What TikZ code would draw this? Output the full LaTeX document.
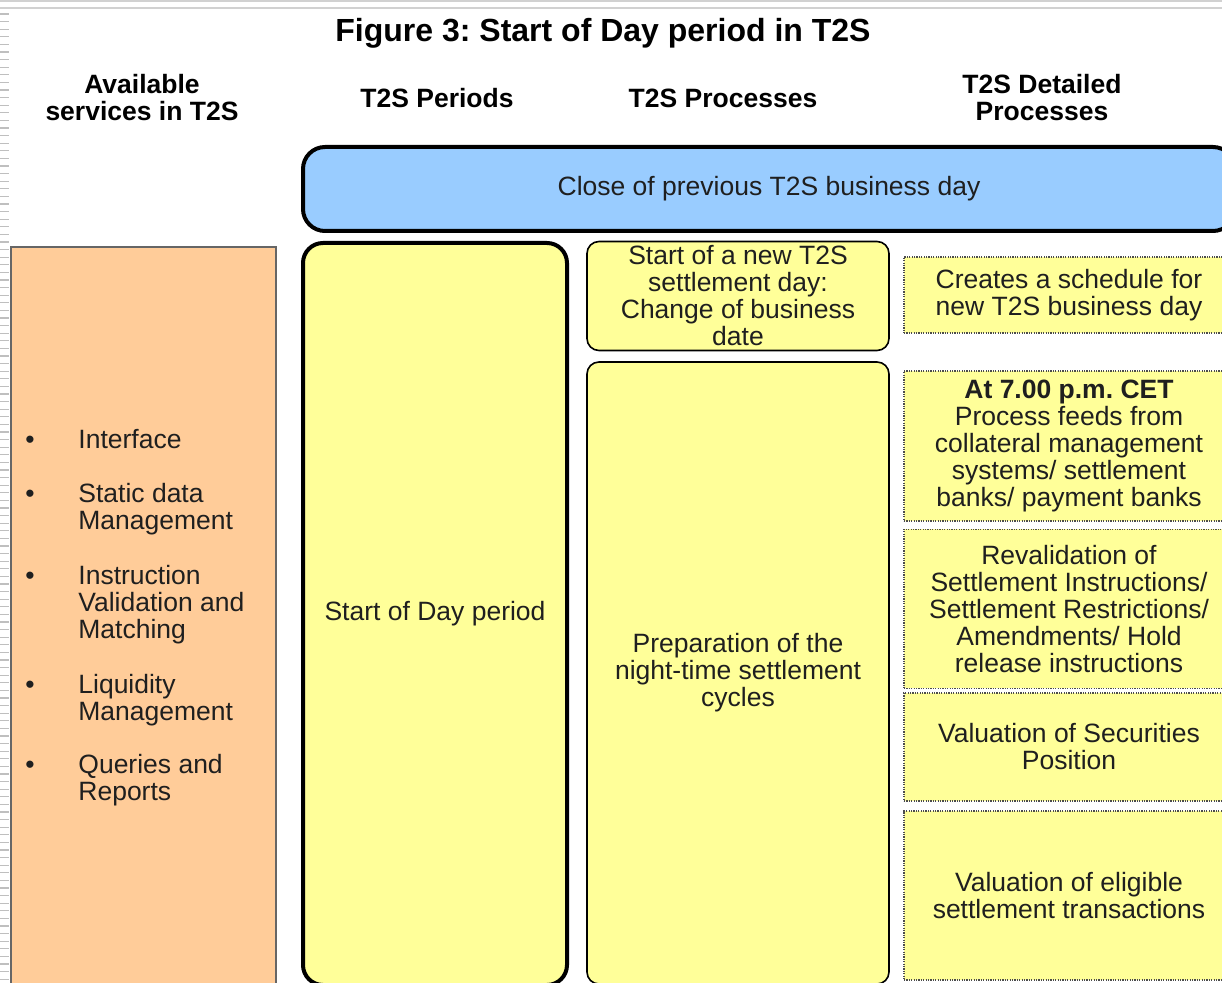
\documentclass[tikz,border=0pt]{standalone}
\usepackage{fontspec}
\setmainfont{Liberation Sans}
\usepackage{tikz}
\newcommand\boxfont{\fontsize{13.25}{13.5}\selectfont\frenchspacing}
\definecolor{dayblue}{HTML}{99CCFF}
\definecolor{dayyellow}{HTML}{FFFF99}
\definecolor{dayorange}{HTML}{FFCC99}
\begin{document}
\begin{tikzpicture}[
		x=0.5pt, y=-0.5pt,
		every node/.style={inner sep=0pt, text=black!88, font=\boxfont},
		header/.style={font=\boxfont\bfseries, align=center, text=black},
		closebox/.style={draw=black, line width=2pt, rounded corners=11pt, fill=dayblue},
		periodbox/.style={draw=black, line width=2pt, rounded corners=10pt, fill=dayyellow, align=center},
		procbox/.style={draw=black, line width=0.8pt, rounded corners=6pt, fill=dayyellow, align=center},
		detailbox/.style={draw=black!70, line width=0.8pt, dash pattern=on 0.6pt off 0.6pt, fill=dayyellow, align=center},
		svcbox/.style={draw=black!60, line width=0.6pt, fill=dayorange},
		svcitem/.style={align=left, anchor=north west}
		]
		\useasboundingbox (0,0) rectangle (1222,983);
		\clip (0,0) rectangle (1222,983);
		\draw[black!18, line width=0.8pt] (0,1) -- (1222,1);
		\draw[black!18, line width=0.8pt] (0,8) -- (1222,8);
		\foreach \t in {14,21.6,...,983}
			\draw[black!25, line width=0.6pt] (0,\t) -- (9,\t);
		\node[font=\fontsize{16}{19}\selectfont\bfseries\frenchspacing, text=black] (title) at (603,33) {Figure 3: Start of Day period in T2S};
		\node[header] (hservices) at (142,97.5) {Available\\services in T2S};
		\node[header] (hperiods) at (437,98) {T2S Periods};
		\node[header] (hprocesses) at (723,98) {T2S Processes};
		\node[header] (hdetailed) at (1042,97.5) {T2S Detailed\\Processes};
		\node[closebox, minimum width=466pt, minimum height=42pt] (close) at (769,189) {Close of previous T2S business day};
		\node[svcbox, minimum width=132.5pt, minimum height=372pt] (services) at (143.5,619) {};
		\foreach \yy/\lbl [count=\i] in {439/Interface, 493/{Static data\\Management}, 575/{Instruction\\Validation and\\Matching}, 684/{Liquidity\\Management}, 764/{Queries and\\Reports}}
		{
			\node[anchor=north west] (bullet\i) at (25,\yy-3) {•};
			\node[svcitem] (service\i) at (78,\yy-10) {\lbl};
		}
		\node[periodbox, minimum width=132pt, minimum height=371pt] (period) at (435,614) {Start of Day period};
		\node[procbox, minimum width=151pt, minimum height=54.5pt] (newday) at (738,296) {Start of a new T2S\\settlement day:\\Change of business\\date};
		\node[procbox, minimum width=151pt, minimum height=311pt] (night) at (738,673) {Preparation of the\\night-time settlement\\cycles};
		\node[detailbox, minimum width=165pt, minimum height=38pt] (schedule) at (1069,295) {Creates a schedule for\\new T2S business day};
		\node[detailbox, minimum width=165pt, minimum height=75pt] (feeds) at (1069,446) {\textbf{At 7.00 p.m. CET}\\Process feeds from\\collateral management\\systems/ settlement\\banks/ payment banks};
		\node[detailbox, minimum width=165pt, minimum height=79.5pt] (reval) at (1069,609) {Revalidation of\\Settlement Instructions/\\Settlement Restrictions/\\Amendments/ Hold\\release instructions};
		\node[detailbox, minimum width=165pt, minimum height=54pt] (secval) at (1069,747) {Valuation of Securities\\Position};
		\node[detailbox, minimum width=165pt, minimum height=84.5pt] (txval) at (1069,895.5) {Valuation of eligible\\settlement transactions};
		\end{tikzpicture}
\end{document}
